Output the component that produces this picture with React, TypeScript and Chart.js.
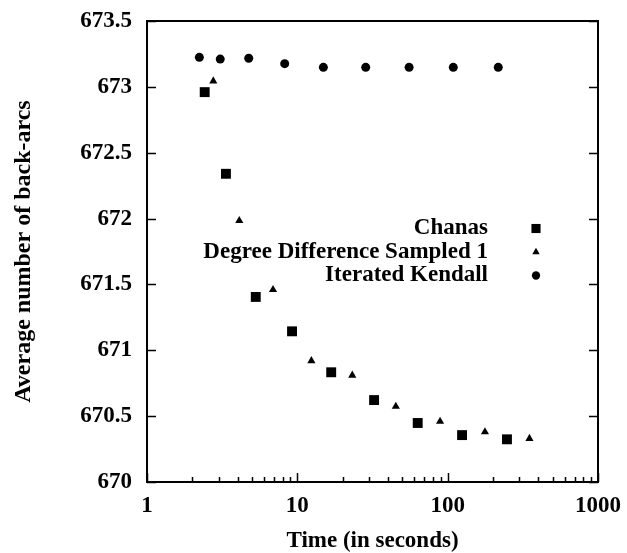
import React, { useEffect, useRef } from 'react';
import { Chart, registerables } from 'chart.js';
import { drawPoint } from 'chart.js/helpers';

Chart.register(...registerables);

// Data
const chanasTime = [2.42, 3.35, 5.29, 9.22, 16.8, 32.4, 63.2, 124.7, 248];
const chanasArcs = [672.96, 672.34, 671.405, 671.144, 670.833, 670.622, 670.448, 670.356, 670.324];

const degreeTime = [2.76, 4.11, 6.89, 12.4, 23.2, 45.2, 89, 177, 350];
const degreeArcs = [673.044, 671.984, 671.46, 670.92, 670.81, 670.574, 670.46, 670.38, 670.33];

const kendallTime = [2.23, 3.07, 4.75, 8.24, 14.9, 28.5, 55.4, 109, 217];
const kendallArcs = [673.224, 673.211, 673.217, 673.176, 673.148, 673.148, 673.148, 673.148, 673.148];

const seriesLabels = ['Chanas', 'Degree Difference Sampled 1', 'Iterated Kendall'];
const xTickValues = [1, 10, 100, 1000];
const yTickValues = [670, 670.5, 671, 671.5, 672, 672.5, 673, 673.5];

const FONT_FAMILY = '"Liberation Serif", "Times New Roman", Times, serif';
const FONT_SIZE = 23;

const toPoints = (xs: number[], ys: number[]) => xs.map((x, i) => ({ x, y: ys[i] }));

const framePlugin = {
  id: 'gnuplotFrame',
  afterDraw(chart: any) {
    const { ctx, chartArea } = chart;
    const { left, right, top, bottom } = chartArea;
    const xs = chart.scales.x;
    const ys = chart.scales.y;
    ctx.save();
    ctx.strokeStyle = '#000';
    ctx.lineWidth = 1.5;
    ctx.beginPath();
    yTickValues.forEach((v) => {
      const py = Math.round(ys.getPixelForValue(v)) + 0.5;
      ctx.moveTo(left, py);
      ctx.lineTo(left + 9, py);
      ctx.moveTo(right, py);
      ctx.lineTo(right - 9, py);
    });
    xTickValues.forEach((v) => {
      const px = Math.round(xs.getPixelForValue(v)) + 0.5;
      ctx.moveTo(px, bottom);
      ctx.lineTo(px, bottom - 9);
    });
    [1, 10, 100].forEach((d) => {
      for (let m = 2; m <= 9; m++) {
        const px = Math.round(xs.getPixelForValue(d * m)) + 0.5;
        ctx.moveTo(px, bottom);
        ctx.lineTo(px, bottom - 5);
      }
    });
    ctx.stroke();
    ctx.lineWidth = 2;
    ctx.strokeRect(left, top, right - left, bottom - top);
    ctx.restore();
  },
};

const legendPlugin = {
  id: 'gnuplotLegend',
  afterDatasetsDraw(chart: any) {
    const { ctx, chartArea } = chart;
    const textX = chartArea.right - 110;
    const markX = chartArea.right - 62;
    ctx.save();
    ctx.fillStyle = '#000';
    ctx.strokeStyle = '#000';
    ctx.font = `bold ${FONT_SIZE}px ${FONT_FAMILY}`;
    ctx.textAlign = 'right';
    ctx.textBaseline = 'middle';
    chart.data.datasets.forEach((ds: any, i: number) => {
      const y = chartArea.top + 207.5 + i * 23.5;
      ctx.fillText(ds.label, textX, y);
      ctx.beginPath();
      drawPoint(ctx, { pointStyle: ds.pointStyle, radius: ds.pointRadius * 0.92, borderWidth: 0, rotation: 0 } as any, markX, y);
    });
    ctx.restore();
  },
};

export default function App() {
  const ref = useRef<HTMLCanvasElement | null>(null);

  useEffect(() => {
    document.body.style.margin = '0';
    const canvas = ref.current;
    if (!canvas) return;
    const font = { family: FONT_FAMILY, size: FONT_SIZE, weight: 'bold' as const };
    const chart = new Chart(canvas, {
      type: 'scatter',
      data: {
        datasets: [
          {
            label: seriesLabels[0],
            data: toPoints(chanasTime, chanasArcs),
            pointStyle: 'rect',
            pointRadius: 7,
            backgroundColor: '#000',
            borderWidth: 0,
            showLine: false,
          },
          {
            label: seriesLabels[1],
            data: toPoints(degreeTime, degreeArcs),
            pointStyle: 'triangle',
            pointRadius: 4.7,
            backgroundColor: '#000',
            borderWidth: 0,
            showLine: false,
          },
          {
            label: seriesLabels[2],
            data: toPoints(kendallTime, kendallArcs),
            pointStyle: 'circle',
            pointRadius: 4.5,
            backgroundColor: '#000',
            borderWidth: 0,
            showLine: false,
          },
        ],
      },
      options: {
        animation: false,
        responsive: false,
        devicePixelRatio: 1,
        layout: { padding: { top: 21, right: 29, left: 0, bottom: 0 } },
        plugins: {
          legend: { display: false },
          tooltip: { enabled: false },
        },
        scales: {
          x: {
            type: 'logarithmic',
            position: 'bottom',
            min: 1,
            max: 1000,
            grid: { display: false, drawTicks: false },
            border: { display: false },
            afterBuildTicks: (scale: any) => {
              scale.ticks = xTickValues.map((v) => ({ value: v }));
            },
            afterFit: (scale: any) => {
              scale.height = 71;
              scale.paddingLeft = 0;
              scale.paddingRight = 0;
              scale.paddingTop = 0;
              scale.paddingBottom = 0;
            },
            ticks: {
              font,
              color: '#000',
              padding: 10,
              maxRotation: 0,
              autoSkip: false,
              callback: (v: any) => String(v),
            },
            title: {
              display: true,
              text: 'Time (in seconds)',
              font,
              color: '#000',
              padding: { top: 0, bottom: -2 },
            },
          },
          y: {
            type: 'linear',
            min: 670,
            max: 673.5,
            grid: { display: false, drawTicks: false },
            border: { display: false },
            afterBuildTicks: (scale: any) => {
              scale.ticks = yTickValues.map((v) => ({ value: v }));
            },
            afterFit: (scale: any) => {
              scale.width = 147;
              scale.paddingLeft = 0;
              scale.paddingRight = 0;
              scale.paddingTop = 0;
              scale.paddingBottom = 0;
            },
            ticks: {
              font,
              color: '#000',
              padding: 15,
              autoSkip: false,
              callback: (v: any) => String(v),
            },
            title: {
              display: true,
              text: 'Average number of back-arcs',
              font: { ...font, size: 24 },
              color: '#000',
              padding: { top: 9, bottom: 0 },
            },
          },
        },
      },
      plugins: [framePlugin, legendPlugin],
    } as any);
    return () => chart.destroy();
  }, []);

  return (
    <div style={{ width: 627, height: 553 }}>
      <canvas ref={ref} width={627} height={553} style={{ display: 'block' }} />
    </div>
  );
}
